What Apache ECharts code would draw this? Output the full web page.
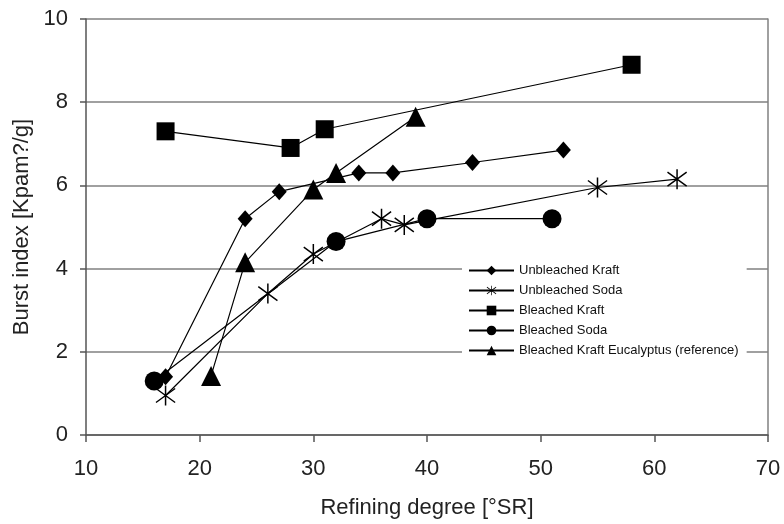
<!DOCTYPE html>
<html>
<head>
<meta charset="utf-8">
<script src="https://cdn.jsdelivr.net/npm/echarts@6/dist/echarts.min.js"></script>
<style>
  html, body { margin: 0; padding: 0; background: #fff; }
  #chart { width: 784px; height: 524px; }
</style>
</head>
<body>
<div id="chart"></div>
<script>
// data
var ubKraftX = [17, 24, 27, 34, 37, 44, 52];
var ubKraftY = [1.4, 5.2, 5.85, 6.3, 6.3, 6.55, 6.85];

var ubSodaX = [17, 26, 30, 36, 38, 55, 62];
var ubSodaY = [0.95, 3.4, 4.35, 5.2, 5.05, 5.95, 6.15];

var bKraftX = [17, 28, 31, 58];
var bKraftY = [7.3, 6.9, 7.35, 8.9];

var bSodaX = [16, 32, 40, 51];
var bSodaY = [1.3, 4.65, 5.2, 5.2];

var eucX = [21, 24, 30, 32, 39];
var eucY = [1.42, 4.15, 5.9, 6.3, 7.65];

var seriesNames = [
    "Unbleached Kraft",
    "Unbleached Soda",
    "Bleached Kraft",
    "Bleached Soda",
    "Bleached Kraft Eucalyptus (reference)"
];

// asterisk marker (vertical bar + X)
var starPath = "path://M9.3 0 L10.7 0 L10.7 20 L9.3 20 Z " +
    "M0.6 3.6 L1.4 2.4 L19.4 16.4 L18.6 17.6 Z " +
    "M1.4 17.6 L0.6 16.4 L18.6 2.4 L19.4 3.6 Z";

function pairs(xs, ys) {
    var out = [];
    for (var i = 0; i < xs.length; i++) out.push([xs[i], ys[i]]);
    return out;
}

function lineSeries(name, data, symbol, size) {
    return {
        name: name,
        type: "line",
        data: data,
        symbol: symbol,
        symbolSize: size,
        showAllSymbol: true,
        lineStyle: { color: "#000", width: 1.2 },
        itemStyle: { color: "#000" },
        emphasis: { disabled: true },
        animation: false
    };
}

var font = "Liberation Sans, Arial, sans-serif";
var myChart = echarts.init(document.getElementById("chart"));

myChart.setOption({
    backgroundColor: "#fff",
    animation: false,
    grid: { left: 86, right: 16, top: 19, bottom: 89 },
    legend: {
        orient: "vertical",
        left: 462,
        top: 258,
        padding: [6, 8, 6, 6],
        backgroundColor: "#fff",
        itemWidth: 45,
        itemHeight: 12,
        itemGap: 7,
        textStyle: { fontFamily: font, fontSize: 13, color: "#111" },
        data: seriesNames
    },
    xAxis: {
        type: "value",
        min: 10,
        max: 70,
        interval: 10,
        name: "Refining degree [°SR]",
        nameLocation: "middle",
        nameGap: 62,
        nameTextStyle: { fontFamily: font, fontSize: 22, color: "#222" },
        axisLine: { show: true, onZero: false, lineStyle: { color: "#555", width: 1.5 } },
        axisTick: { show: true, length: 7, lineStyle: { color: "#555", width: 1.5 } },
        axisLabel: { margin: 23, fontFamily: font, fontSize: 22, color: "#222" },
        splitLine: { show: false }
    },
    yAxis: [{
        type: "value",
        min: 0,
        max: 10,
        interval: 2,
        name: "Burst index [Kpam?/g]",
        nameLocation: "middle",
        nameGap: 50,
        nameTextStyle: { fontFamily: font, fontSize: 22, color: "#222" },
        axisLine: { show: true, lineStyle: { color: "#555", width: 1.5 } },
        axisTick: { show: true, length: 6, lineStyle: { color: "#555", width: 1.5 } },
        axisLabel: { margin: 18, fontFamily: font, fontSize: 22, color: "#222" },
        splitLine: { show: true, lineStyle: { color: "#808080", width: 1.5 } }
    }, {
        type: "value",
        position: "right",
        min: 0,
        max: 10,
        interval: 2,
        axisLine: { show: true, lineStyle: { color: "#808080", width: 1.5 } },
        axisTick: { show: false },
        axisLabel: { show: false },
        splitLine: { show: false }
    }],
    series: [
        lineSeries(seriesNames[0], pairs(ubKraftX, ubKraftY), "diamond", [15, 17]),
        lineSeries(seriesNames[1], pairs(ubSodaX, ubSodaY), starPath, 20),
        lineSeries(seriesNames[2], pairs(bKraftX, bKraftY), "rect", 18),
        lineSeries(seriesNames[3], pairs(bSodaX, bSodaY), "circle", 19),
        lineSeries(seriesNames[4], pairs(eucX, eucY), "triangle", 20)
    ]
});
</script>
</body>
</html>
